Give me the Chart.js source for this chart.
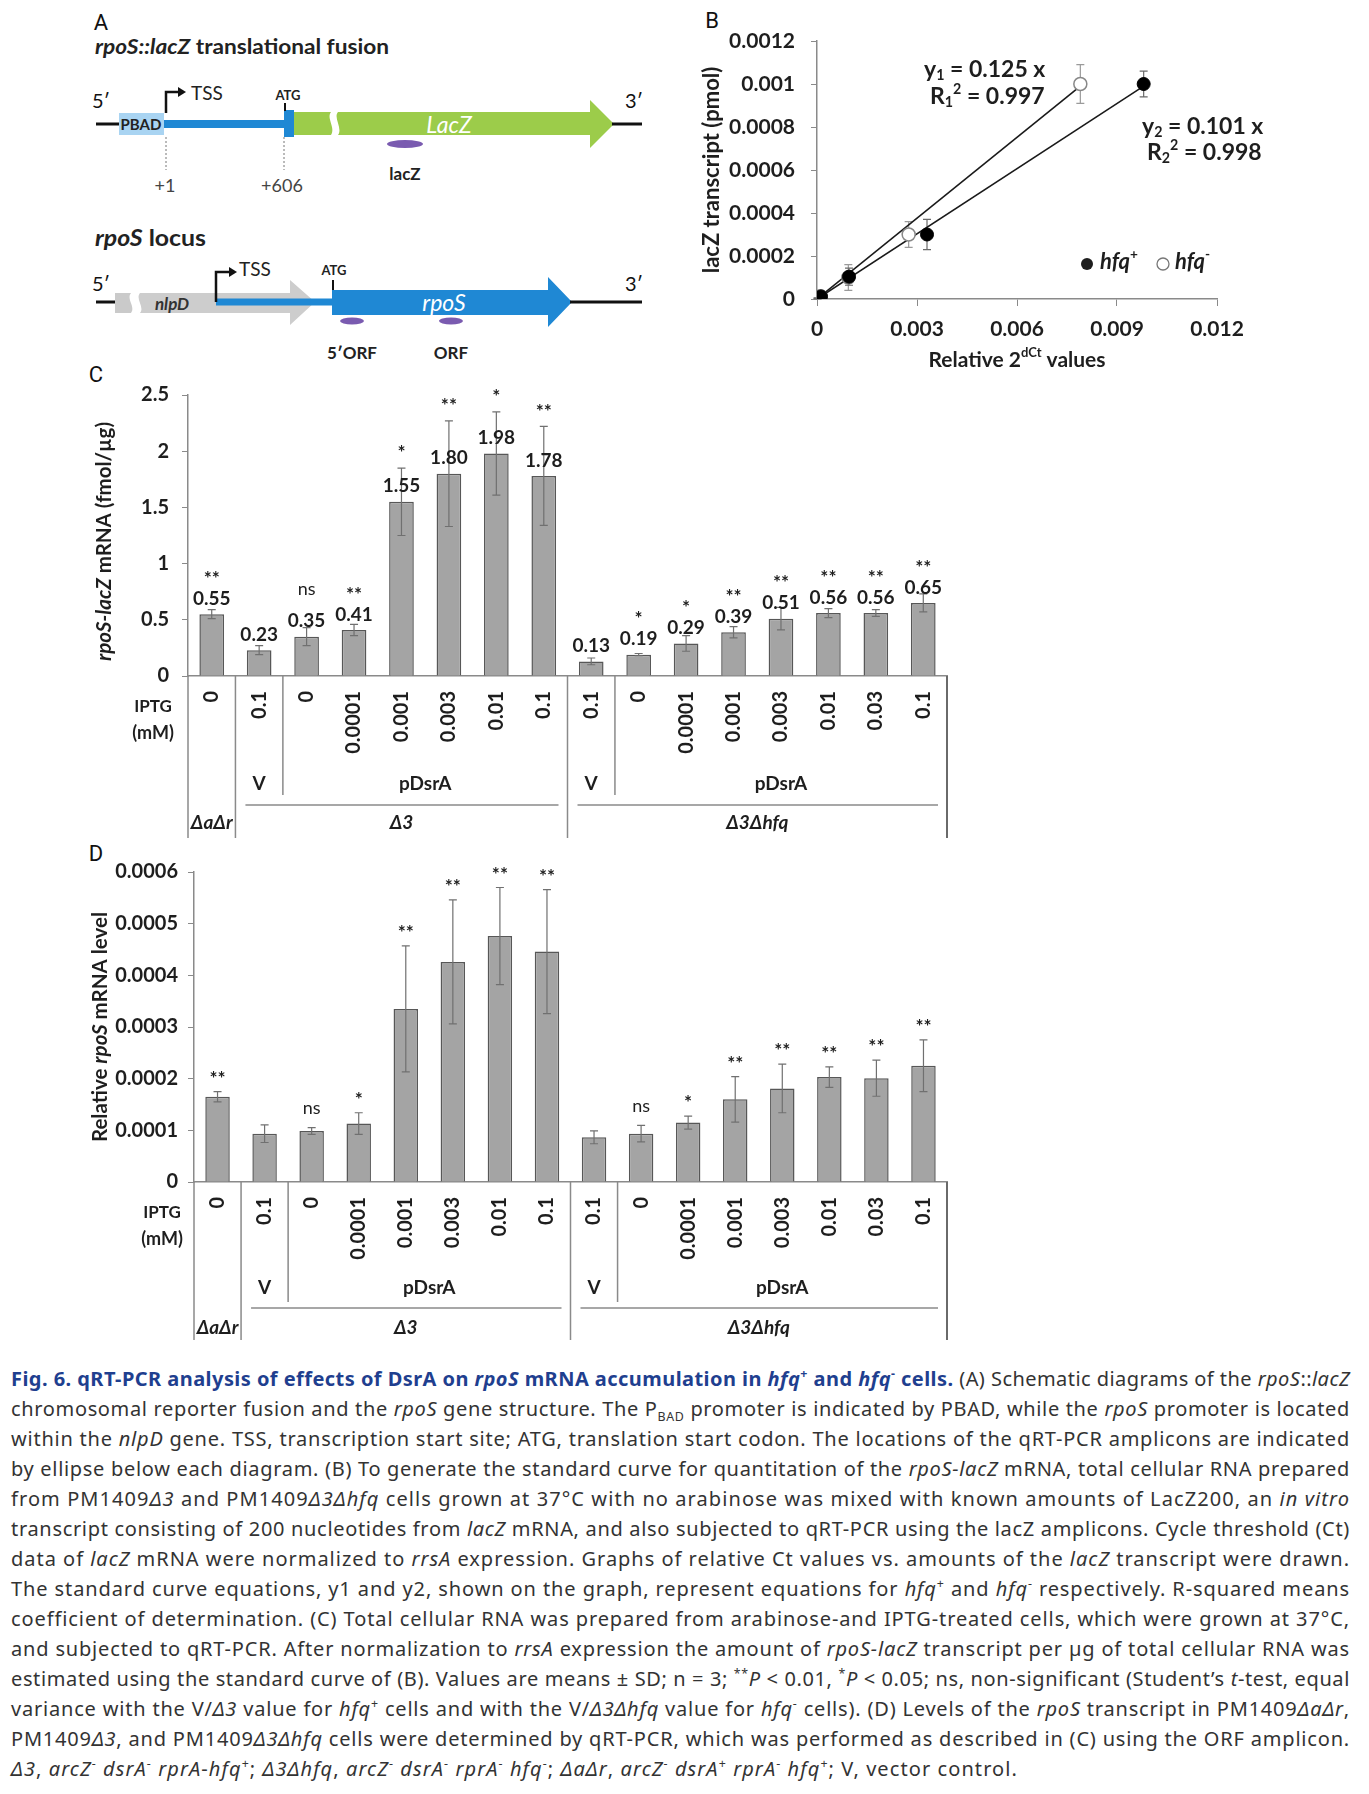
<!DOCTYPE html>
<html>
<head>
<meta charset="utf-8">
<script src="https://cdn.jsdelivr.net/npm/chart.js@4.4.1/dist/chart.umd.min.js"></script>
<style>
  body { margin: 0; background: #fff; }
  #page { position: relative; width: 1369px; height: 1794px; overflow: hidden; background: #fff; }
  canvas { position: absolute; }
  .letter { position: absolute; font-family: "Liberation Sans Narrow", Roboto, sans-serif; font-size: 22px; color: #111; transform: translate(-50%, -50%); }
  #caption { position: absolute; left: 11px; top: 1364px; width: 1339px; font-family: "Noto Sans", "Open Sans", sans-serif; font-size: 20px; color: #333; }
  #caption .ln { height: 30px; line-height: 30px; white-space: nowrap; }
  #caption .ln span.w { display: inline-block; transform-origin: 0 50%; }
  #caption b.t { color: #1f3f8f; }
  #caption sup, #caption sub { font-size: 0.62em; line-height: 0; }
</style>
</head>
<body>
<div id="page">

<svg id="panelA" width="690" height="370" style="position:absolute;left:0;top:0" font-family="Lato, 'Open Sans', sans-serif">
  <text x="101" y="22" font-family="Liberation Sans Narrow, Roboto, sans-serif" font-size="22" text-anchor="middle" dominant-baseline="central" fill="#111">A</text>
  <text x="95" y="54" font-size="21" font-weight="bold" fill="#222" textLength="294" lengthAdjust="spacingAndGlyphs"><tspan font-style="italic">rpoS::lacZ</tspan> translational fusion</text>

  <!-- fusion construct -->
  <text x="101" y="100" font-size="20" text-anchor="middle" dominant-baseline="central" fill="#111">5′</text>
  <text x="634" y="100" font-size="20" text-anchor="middle" dominant-baseline="central" fill="#111">3′</text>
  <line x1="96" y1="124" x2="122" y2="124" stroke="#111" stroke-width="3"/>
  <rect x="119" y="113" width="45" height="22" fill="#a9d4f2"/>
  <text x="141" y="124" font-size="15" font-weight="bold" text-anchor="middle" dominant-baseline="central" fill="#222">PBAD</text>
  <rect x="164" y="120" width="121" height="8" fill="#1f88d4"/>
  <rect x="284" y="110" width="10" height="27" fill="#1f88d4"/>
  <line x1="285" y1="103" x2="285" y2="111" stroke="#111" stroke-width="2"/>
  <text x="288" y="95" font-size="13" font-weight="bold" text-anchor="middle" dominant-baseline="central" fill="#222">ATG</text>
  <path d="M294,112 H331 C326,118 336,128 331,135 H294 Z" fill="#9ccc4a"/>
  <path d="M338,112 H590 V100 L614,124 L590,148 V135 H338 C343,128 333,118 338,112 Z" fill="#9ccc4a"/>
  <line x1="612" y1="124" x2="642" y2="124" stroke="#111" stroke-width="3"/>
  <text x="449" y="124" font-size="23" font-style="italic" text-anchor="middle" dominant-baseline="central" fill="#fff">LacZ</text>
  <path d="M166,113 V92 H178" stroke="#111" stroke-width="2.5" fill="none"/>
  <polygon points="178,87 186,92 178,97" fill="#111"/>
  <text x="191" y="92" font-size="19" dominant-baseline="central" fill="#222">TSS</text>
  <ellipse cx="405" cy="144" rx="18" ry="4" fill="#7a5bb0"/>
  <text x="405" y="173" font-size="17" font-weight="bold" text-anchor="middle" dominant-baseline="central" fill="#222">lacZ</text>
  <line x1="166" y1="137" x2="166" y2="170" stroke="#777" stroke-width="1" stroke-dasharray="2,2"/>
  <line x1="284" y1="137" x2="284" y2="170" stroke="#777" stroke-width="1" stroke-dasharray="2,2"/>
  <text x="165" y="185" font-size="18" text-anchor="middle" dominant-baseline="central" fill="#444">+1</text>
  <text x="282" y="185" font-size="18" text-anchor="middle" dominant-baseline="central" fill="#444">+606</text>

  <!-- rpoS locus -->
  <text x="95" y="246" font-size="23" font-weight="bold" fill="#222" textLength="111" lengthAdjust="spacingAndGlyphs"><tspan font-style="italic">rpoS</tspan> locus</text>
  <text x="101" y="283" font-size="20" text-anchor="middle" dominant-baseline="central" fill="#111">5′</text>
  <text x="634" y="283" font-size="20" text-anchor="middle" dominant-baseline="central" fill="#111">3′</text>
  <line x1="96" y1="302" x2="116" y2="302" stroke="#111" stroke-width="3"/>
  <path d="M115,293 H131 C126,299 136,307 131,313 H115 Z" fill="#cacaca"/>
  <path d="M140,293 H290 V280 L315,302 L290,325 V313 H140 C145,307 135,299 140,293 Z" fill="#cdcdcd"/>
  <text x="172" y="303" font-size="17" font-weight="bold" font-style="italic" text-anchor="middle" dominant-baseline="central" fill="#333">nlpD</text>
  <rect x="216" y="298.5" width="117" height="7" fill="#1f88d4"/>
  <path d="M332,290 H548 V277 L572,302 L548,327 V315 H332 Z" fill="#1f88d4"/>
  <line x1="570" y1="302" x2="642" y2="302" stroke="#111" stroke-width="3"/>
  <path d="M216,302 V272 H229" stroke="#111" stroke-width="2.5" fill="none"/>
  <polygon points="229,267 237,272 229,277" fill="#111"/>
  <text x="239" y="268" font-size="19" dominant-baseline="central" fill="#222">TSS</text>
  <line x1="333" y1="280" x2="333" y2="290" stroke="#111" stroke-width="2"/>
  <text x="334" y="270" font-size="13" font-weight="bold" text-anchor="middle" dominant-baseline="central" fill="#222">ATG</text>
  <text x="444" y="302" font-size="23" font-style="italic" text-anchor="middle" dominant-baseline="central" fill="#fff">rpoS</text>
  <ellipse cx="352" cy="321" rx="12" ry="3.5" fill="#7a5bb0"/>
  <ellipse cx="451" cy="321" rx="12" ry="3.5" fill="#7a5bb0"/>
  <text x="352" y="352" font-size="17" font-weight="bold" text-anchor="middle" dominant-baseline="central" fill="#222">5′ORF</text>
  <text x="451" y="352" font-size="17" font-weight="bold" text-anchor="middle" dominant-baseline="central" fill="#222">ORF</text>
</svg>

<div class="letter" style="left:712px;top:20px">B</div>
<div class="letter" style="left:96px;top:374px">C</div>
<div class="letter" style="left:96px;top:853px">D</div>

<canvas id="chartB" width="679" height="380" style="left:690px;top:0px"></canvas>
<canvas id="chartC" width="1000" height="475" style="left:0px;top:370px"></canvas>
<canvas id="chartD" width="1000" height="505" style="left:0px;top:840px"></canvas>

<div id="caption">
  <div class="ln"><span class="w"><b class="t">Fig. 6. qRT-PCR analysis of effects of DsrA on <i>rpoS</i> mRNA accumulation in <i>hfq</i><sup>+</sup> and <i>hfq</i><sup>-</sup> cells.</b> (A) Schematic diagrams of the <i>rpoS</i>::<i>lacZ</i></span></div>
  <div class="ln"><span class="w">chromosomal reporter fusion and the <i>rpoS</i> gene structure. The P<sub>BAD</sub> promoter is indicated by PBAD, while the <i>rpoS</i> promoter is located</span></div>
  <div class="ln"><span class="w">within the <i>nlpD</i> gene. TSS, transcription start site; ATG, translation start codon. The locations of the qRT-PCR amplicons are indicated</span></div>
  <div class="ln"><span class="w">by ellipse below each diagram. (B) To generate the standard curve for quantitation of the <i>rpoS-lacZ</i> mRNA, total cellular RNA prepared</span></div>
  <div class="ln"><span class="w">from PM1409<i>Δ3</i> and PM1409<i>Δ3Δhfq</i> cells grown at 37°C with no arabinose was mixed with known amounts of LacZ200, an <i>in vitro</i></span></div>
  <div class="ln"><span class="w">transcript consisting of 200 nucleotides from <i>lacZ</i> mRNA, and also subjected to qRT-PCR using the lacZ amplicons. Cycle threshold (Ct)</span></div>
  <div class="ln"><span class="w">data of <i>lacZ</i> mRNA were normalized to <i>rrsA</i> expression. Graphs of relative Ct values vs. amounts of the <i>lacZ</i> transcript were drawn.</span></div>
  <div class="ln"><span class="w">The standard curve equations, y1 and y2, shown on the graph, represent equations for <i>hfq</i><sup>+</sup> and <i>hfq</i><sup>-</sup> respectively. R-squared means</span></div>
  <div class="ln"><span class="w">coefficient of determination. (C) Total cellular RNA was prepared from arabinose-and IPTG-treated cells, which were grown at 37°C,</span></div>
  <div class="ln"><span class="w">and subjected to qRT-PCR. After normalization to <i>rrsA</i> expression the amount of <i>rpoS-lacZ</i> transcript per µg of total cellular RNA was</span></div>
  <div class="ln"><span class="w">estimated using the standard curve of (B). Values are means ± SD; n = 3; <sup>**</sup><i>P</i> &lt; 0.01, <sup>*</sup><i>P</i> &lt; 0.05; ns, non-significant (Student’s <i>t</i>-test, equal</span></div>
  <div class="ln"><span class="w">variance with the V/<i>Δ3</i> value for <i>hfq</i><sup>+</sup> cells and with the V/<i>Δ3Δhfq</i> value for <i>hfq</i><sup>-</sup> cells). (D) Levels of the <i>rpoS</i> transcript in PM1409<i>ΔaΔr</i>,</span></div>
  <div class="ln"><span class="w">PM1409<i>Δ3</i>, and PM1409<i>Δ3Δhfq</i> cells were determined by qRT-PCR, which was performed as described in (C) using the ORF amplicon.</span></div>
  <div class="ln"><span class="w"><i>Δ3</i>, <i>arcZ</i><sup>-</sup> <i>dsrA</i><sup>-</sup> <i>rprA</i>-<i>hfq</i><sup>+</sup>; <i>Δ3Δhfq</i>, <i>arcZ</i><sup>-</sup> <i>dsrA</i><sup>-</sup> <i>rprA</i><sup>-</sup> <i>hfq</i><sup>-</sup>; <i>ΔaΔr</i>, <i>arcZ</i><sup>-</sup> <i>dsrA</i><sup>+</sup> <i>rprA</i><sup>-</sup> <i>hfq</i><sup>+</sup>; V, vector control.</span></div>
</div>

</div>

<script>
var FONT = 'Lato, "Open Sans", "DejaVu Sans", sans-serif';

// panel B: standard curve
var hfqPlusX = [0.00002, 0.00012, 0.00096, 0.0033, 0.0098];
var hfqPlusY = [0.000002, 0.000012, 0.000104, 0.0003, 0.001];
var hfqPlusSd = [0.000003, 0.000005, 0.00004, 0.00007, 0.00006];
var hfqMinusX = [0.00001, 0.0001, 0.00094, 0.00275, 0.0079];
var hfqMinusY = [0.000001, 0.000013, 0.0001, 0.0003, 0.001];
var hfqMinusSd = [0.000002, 0.000006, 0.00006, 0.00006, 0.00009];
var fit1X = [0, 0.0079], fit1Y = [0, 0.00099];
var fit2X = [0, 0.0098], fit2Y = [0, 0.00099];

// panels C and D: IPTG categories
var iptg = ['0', '0.1', '0', '0.0001', '0.001', '0.003', '0.01', '0.1', '0.1', '0', '0.0001', '0.001', '0.003', '0.01', '0.03', '0.1'];
var strainNames = ['ΔaΔr', 'Δ3', 'Δ3Δhfq'];
var strainSpan = [[0, 0], [1, 7], [8, 15]];
var plasmidNames = ['V', 'pDsrA', 'V', 'pDsrA'];
var plasmidSpan = [[1, 1], [2, 7], [8, 8], [9, 15]];

// panel C: rpoS-lacZ mRNA (fmol/ug)
var lacZmRNA = [0.55, 0.23, 0.35, 0.41, 1.55, 1.80, 1.98, 1.78, 0.13, 0.19, 0.29, 0.39, 0.51, 0.56, 0.56, 0.65];
var lacZsd = [0.04, 0.04, 0.08, 0.05, 0.30, 0.47, 0.37, 0.44, 0.03, 0.01, 0.07, 0.05, 0.10, 0.04, 0.03, 0.08];
var lacZsig = ['**', '', 'ns', '**', '*', '**', '*', '**', '', '*', '*', '**', '**', '**', '**', '**'];

// panel D: relative rpoS mRNA level
var rpoSlevel = [0.000165, 0.0000935, 0.0000987, 0.000113, 0.000335, 0.000426, 0.000476, 0.000446, 0.0000865, 0.0000935, 0.000115, 0.00016, 0.000181, 0.000203, 0.000201, 0.000225];
var rpoSsd = [0.00001, 0.000017, 0.0000065, 0.000021, 0.000122, 0.00012, 0.000094, 0.00012, 0.0000125, 0.000016, 0.0000125, 0.000044, 0.000047, 0.00002, 0.000035, 0.00005];
var rpoSsig = ['**', '', 'ns', '*', '**', '**', '**', '**', '', 'ns', '*', '**', '**', '**', '**', '**'];

Chart.defaults.font.family = FONT;

function partFont(p, size, weight) {
  var s = (p.sup || p.sub) ? size * 0.62 : size;
  return (p.it ? 'italic ' : '') + (p.w || weight) + ' ' + s + 'px ' + FONT;
}

// draws a short run of mixed italic / super / subscript text
function drawRich(ctx, parts, x, y, size, weight, align, rot) {
  ctx.save();
  ctx.translate(x, y);
  if (rot) ctx.rotate(rot);
  var w = 0;
  parts.forEach(function (p) { ctx.font = partFont(p, size, weight); w += ctx.measureText(p.t).width; });
  var cx = align === 'left' ? 0 : -w / 2;
  ctx.textAlign = 'left';
  ctx.textBaseline = 'middle';
  parts.forEach(function (p) {
    ctx.font = partFont(p, size, weight);
    var dy = p.sup ? -size * 0.32 : (p.sub ? size * 0.22 : 0);
    ctx.fillText(p.t, cx, dy);
    cx += ctx.measureText(p.t).width;
  });
  ctx.restore();
}

function pts(xs, ys) {
  return xs.map(function (x, i) { return {x: x, y: ys[i]}; });
}

function fmt(dec) {
  return function (v) { return v === 0 ? '0' : String(+v.toFixed(dec)); };
}

var tickFont = {family: FONT, weight: 'bold', size: 20};
var axisGrey = '#8a8a8a';

// ---------- B ----------
var scatterExtras = {
  id: 'scatterExtras',
  beforeDatasetsDraw: function (chart) {
    var ctx = chart.ctx, xs = chart.scales.x, ys = chart.scales.y;
    var sets = [[hfqMinusX, hfqMinusY, hfqMinusSd, '#9a9a9a'], [hfqPlusX, hfqPlusY, hfqPlusSd, '#6a6a6a']];
    ctx.save();
    ctx.lineWidth = 1.2;
    sets.forEach(function (s) {
      ctx.strokeStyle = s[3];
      s[0].forEach(function (xv, i) {
        var x = xs.getPixelForValue(xv);
        var y1 = ys.getPixelForValue(s[1][i] + s[2][i]);
        var y2 = ys.getPixelForValue(Math.max(0, s[1][i] - s[2][i]));
        ctx.beginPath();
        ctx.moveTo(x, y1); ctx.lineTo(x, y2);
        ctx.moveTo(x - 4, y1); ctx.lineTo(x + 4, y1);
        ctx.moveTo(x - 4, y2); ctx.lineTo(x + 4, y2);
        ctx.stroke();
      });
    });
    ctx.restore();
  },
  afterDraw: function (chart) {
    var ctx = chart.ctx, ca = chart.chartArea;
    ctx.save();
    ctx.fillStyle = '#1e1e1e';
    drawRich(ctx, [{t: 'lacZ transcript (pmol)'}], 22, (ca.top + ca.bottom) / 2, 22, 'bold', 'center', -Math.PI / 2);
    drawRich(ctx, [{t: 'Relative 2'}, {t: 'dCt', sup: true}, {t: ' values'}], (ca.left + ca.right) / 2, 360, 21, 'bold', 'center');
    drawRich(ctx, [{t: 'y'}, {t: '1', sub: true}, {t: ' = 0.125 x'}], ca.left + 107, ca.top + 29, 23, 'bold', 'left');
    drawRich(ctx, [{t: 'R'}, {t: '1', sub: true}, {t: '2', sup: true}, {t: ' = 0.997'}], ca.left + 113, ca.top + 56, 23, 'bold', 'left');
    drawRich(ctx, [{t: 'y'}, {t: '2', sub: true}, {t: ' = 0.101 x'}], ca.left + 325, ca.top + 86, 23, 'bold', 'left');
    drawRich(ctx, [{t: 'R'}, {t: '2', sub: true}, {t: '2', sup: true}, {t: ' = 0.998'}], ca.left + 330, ca.top + 112, 23, 'bold', 'left');
    // legend
    ctx.beginPath(); ctx.arc(ca.left + 270, ca.top + 223, 6, 0, Math.PI * 2); ctx.fill();
    drawRich(ctx, [{t: 'hfq', it: true}, {t: '+', sup: true}], ca.left + 283, ca.top + 221, 22, 'bold', 'left');
    ctx.strokeStyle = '#777'; ctx.lineWidth = 1.3;
    ctx.beginPath(); ctx.arc(ca.left + 346, ca.top + 223, 6, 0, Math.PI * 2); ctx.stroke();
    drawRich(ctx, [{t: 'hfq', it: true}, {t: '-', sup: true}], ca.left + 358, ca.top + 221, 22, 'bold', 'left');
    ctx.restore();
  }
};

new Chart(document.getElementById('chartB'), {
  type: 'scatter',
  data: {
    datasets: [
      {data: pts(fit1X, fit1Y), showLine: true, borderColor: '#1a1a1a', borderWidth: 1.6, pointRadius: 0, order: 3},
      {data: pts(fit2X, fit2Y), showLine: true, borderColor: '#1a1a1a', borderWidth: 1.6, pointRadius: 0, order: 3},
      {data: pts(hfqPlusX, hfqPlusY), pointRadius: 6.5, backgroundColor: '#000', borderColor: '#000', order: 1},
      {data: pts(hfqMinusX, hfqMinusY), pointRadius: 6.5, backgroundColor: '#fff', borderColor: '#888', borderWidth: 1.5, order: 2}
    ]
  },
  options: {
    responsive: false, animation: false, devicePixelRatio: 1,
    layout: {padding: {left: 0, top: 41, right: 152, bottom: 0}},
    plugins: {legend: {display: false}, tooltip: {enabled: false}},
    scales: {
      x: {
        type: 'linear', min: 0, max: 0.012,
        ticks: {stepSize: 0.003, callback: fmt(4), color: '#1e1e1e', font: {family: FONT, weight: 'bold', size: 21}, padding: 11},
        grid: {drawOnChartArea: false, tickLength: 7, color: axisGrey},
        border: {color: axisGrey, width: 1.5},
        afterFit: function (s) { s.height = 81; }
      },
      y: {
        min: 0, max: 0.0012,
        ticks: {stepSize: 0.0002, callback: fmt(5), color: '#1e1e1e', font: {family: FONT, weight: 'bold', size: 21}, padding: 16},
        grid: {drawOnChartArea: false, tickLength: 6, color: axisGrey},
        border: {color: axisGrey, width: 1.5},
        afterFit: function (s) { s.width = 127; }
      }
    }
  },
  plugins: [scatterExtras]
});

// ---------- C and D ----------
function makeBarExtras(cfg) {
  return {
    id: 'barExtras' + cfg.name,
    afterDatasetsDraw: function (chart) {
      var ctx = chart.ctx, xs = chart.scales.x, ys = chart.scales.y;
      var vals = chart.data.datasets[0].data;
      ctx.save();
      ctx.textAlign = 'center';
      ctx.textBaseline = 'middle';
      vals.forEach(function (v, i) {
        var x = xs.getPixelForValue(i);
        var yHi = ys.getPixelForValue(v + cfg.sd[i]);
        var yLo = ys.getPixelForValue(v - cfg.sd[i]);
        ctx.strokeStyle = '#707070'; ctx.lineWidth = 1.2;
        ctx.beginPath();
        ctx.moveTo(x, yHi); ctx.lineTo(x, yLo);
        ctx.moveTo(x - 4, yHi); ctx.lineTo(x + 4, yHi);
        ctx.moveTo(x - 4, yLo); ctx.lineTo(x + 4, yLo);
        ctx.stroke();
        ctx.fillStyle = '#1e1e1e';
        var sy = yHi - cfg.starGap;
        if (cfg.showValues) {
          var ly = ys.getPixelForValue(v) - 15.5;
          ctx.font = 'bold 19px ' + FONT;
          ctx.fillText(v.toFixed(2), x, ly);
          sy = Math.min(sy, ly - 24);
        }
        var s = cfg.sig[i];
        if (s === 'ns') {
          ctx.font = 'normal 18px ' + FONT;
          ctx.fillText(s, x, sy - cfg.nsShift);
        } else if (s) {
          ctx.font = 'bold 19px ' + FONT;
          ctx.fillText(s, x, sy + 4);
        }
      });
      ctx.restore();
    },
    afterDraw: function (chart) {
      var ctx = chart.ctx, xs = chart.scales.x, ys = chart.scales.y, ca = chart.chartArea;
      var n = chart.data.labels.length;
      var cw = (xs.right - xs.left) / n;
      var ax = ys.bottom;
      function edge(i) { return xs.left + i * cw; }
      ctx.save();
      ctx.strokeStyle = axisGrey;
      ctx.lineWidth = 1.5;
      ctx.beginPath();
      var starts = strainSpan.map(function (s) { return s[0]; });
      strainSpan.forEach(function (s) {
        ctx.moveTo(edge(s[0]), ax); ctx.lineTo(edge(s[0]), ax + cfg.longLen);
        if (s[1] > s[0]) {
          ctx.moveTo(edge(s[0]) + 10, ax + cfg.hLine); ctx.lineTo(edge(s[1] + 1) - 9, ax + cfg.hLine);
        }
      });
      plasmidSpan.forEach(function (s) {
        if (starts.indexOf(s[0]) < 0) { ctx.moveTo(edge(s[0]), ax); ctx.lineTo(edge(s[0]), ax + cfg.shortLen); }
      });
      ctx.stroke();
      ctx.strokeStyle = '#6a6a6a'; ctx.lineWidth = 2;
      ctx.beginPath(); ctx.moveTo(edge(n), ax); ctx.lineTo(edge(n), ax + cfg.longLen); ctx.stroke();

      ctx.fillStyle = '#1e1e1e';
      plasmidSpan.forEach(function (s, k) {
        drawRich(ctx, [{t: plasmidNames[k]}], (edge(s[0]) + edge(s[1] + 1)) / 2, ax + cfg.plasY, 19, 'bold', 'center');
      });
      strainSpan.forEach(function (s, k) {
        drawRich(ctx, [{t: strainNames[k], it: true}], (edge(s[0]) + edge(s[1] + 1)) / 2, ax + cfg.strY, 19, 'bold', 'center');
      });
      drawRich(ctx, [{t: 'IPTG'}], cfg.iptgX, ax + 31, 17, 'bold', 'center');
      drawRich(ctx, [{t: '(mM)'}], cfg.iptgX, ax + 57, 18, 'bold', 'center');
      drawRich(ctx, cfg.title, cfg.titleX, (ca.top + ca.bottom) / 2 + cfg.titleShift, 20.5, 'bold', 'center', -Math.PI / 2);
      ctx.restore();
    }
  };
}

function barChart(id, values, yMax, yStep, dec, pad, yWidth, xHeight, extras) {
  return new Chart(document.getElementById(id), {
    type: 'bar',
    data: {
      labels: iptg,
      datasets: [{data: values, backgroundColor: '#a4a4a4', borderColor: '#575757', borderWidth: 1.5, barPercentage: 0.52, categoryPercentage: 1}]
    },
    options: {
      responsive: false, animation: false, devicePixelRatio: 1,
      layout: {padding: pad},
      plugins: {legend: {display: false}, tooltip: {enabled: false}},
      scales: {
        x: {
          grid: {display: false, drawTicks: false},
          border: {color: axisGrey, width: 1.5},
          ticks: {autoSkip: false, maxRotation: 90, minRotation: 90, padding: 15, color: '#1e1e1e', font: tickFont},
          afterFit: function (s) { s.height = xHeight; }
        },
        y: {
          min: 0, max: yMax,
          ticks: {stepSize: yStep, callback: fmt(dec), color: '#1e1e1e', font: tickFont, padding: extras.tickPad},
          grid: {drawOnChartArea: false, tickLength: 6, color: axisGrey},
          border: {color: axisGrey, width: 1.5},
          afterFit: function (s) { s.width = yWidth; }
        }
      }
    },
    plugins: [makeBarExtras(extras)]
  });
}

barChart('chartC', lacZmRNA, 2.5, 0.5, 2, {left: 0, top: 19, right: 53, bottom: 0}, 188, 169, {
  name: 'C', sd: lacZsd, sig: lacZsig, showValues: true, starGap: 19, nsShift: 8, tickPad: 13,
  longLen: 162, shortLen: 119, hLine: 129, plasY: 108, strY: 147, iptgX: 153, titleX: 104, titleShift: 6,
  title: [{t: 'rpoS-lacZ', it: true}, {t: ' mRNA (fmol/µg)'}]
});

barChart('chartD', rpoSlevel, 0.0006, 0.0001, 4, {left: 0, top: 32, right: 53, bottom: 0}, 194, 163, {
  name: 'D', sd: rpoSsd, sig: rpoSsig, showValues: false, starGap: 17, nsShift: 2, tickPad: 10,
  longLen: 158, shortLen: 120, hLine: 126, plasY: 106, strY: 146, iptgX: 162, titleX: 100, titleShift: 0,
  title: [{t: 'Relative '}, {t: 'rpoS', it: true}, {t: ' mRNA level'}]
});

// caption: widen each line to its width in the figure, mostly through letter spacing
function fitLine(sp, target) {
  var w = sp.getBoundingClientRect().width;
  if (w > target) { sp.style.transform = 'scaleX(' + (target / w) + ')'; return; }
  sp.style.letterSpacing = ((target - w) / sp.textContent.length) + 'px';
  var w2 = sp.getBoundingClientRect().width;
  if (w2 > target) sp.style.transform = 'scaleX(' + (target / w2) + ')';
}
function justifyCaption() {
  var lines = document.querySelectorAll('#caption .ln');
  lines.forEach(function (ln, k) {
    fitLine(ln.querySelector('span.w'), k === lines.length - 1 ? 1007 : 1339);
  });
}
if (document.fonts && document.fonts.ready) document.fonts.ready.then(justifyCaption); else justifyCaption();
</script>
</body>
</html>
